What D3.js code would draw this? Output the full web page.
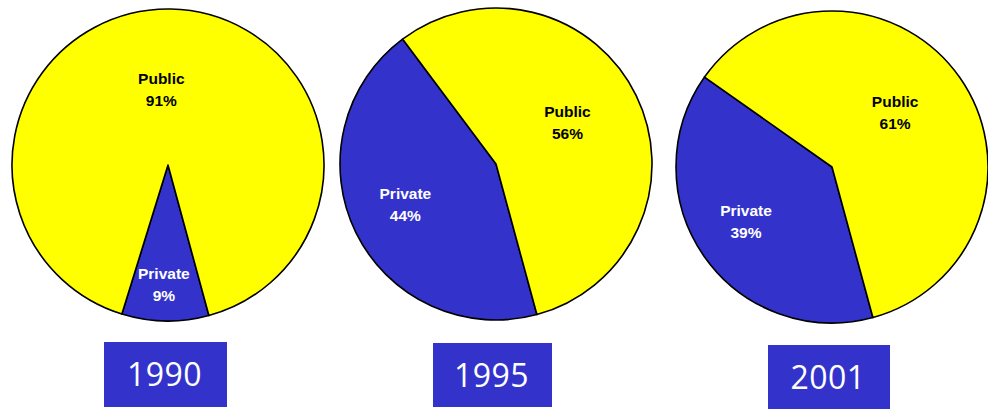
<!DOCTYPE html>
<html>
<head>
<meta charset="utf-8">
<script src="https://cdn.jsdelivr.net/npm/d3@7"></script>
<style>
  body { margin: 0; background: #fff; }
  svg { display: block; }
</style>
</head>
<body>
<div id="chart"></div>
<script>
// dados
const anos = ["1990", "1995", "2001"];
const categorias = ["Private", "Public"];
const privado = [9, 44, 39];
const publico = [91, 56, 61];

// layout (posições dos gráficos na tela)
const width = 988, height = 410;
const raio = 156;
const centros = [[168, 165], [496, 164], [832, 167]];
const caixas = [
  { x: 104, y: 342, w: 123, h: 65 },
  { x: 433, y: 343, w: 119, h: 64 },
  { x: 768, y: 345, w: 122, h: 64 }
];
// rótulos: [raio relativo, desvio do ângulo em graus] para [private, public]
const posRotulo = [
  [[0.763, 1], [0.49, -6]],
  [[0.635, 2.2], [0.532, -4.6]],
  [[0.65, 3], [0.536, -6]]
];

const cores = d3.scaleOrdinal().domain(categorias).range(["#3333cc", "#ffff00"]);
const corTexto = d3.scaleOrdinal().domain(categorias).range(["#ffffff", "#000000"]);

const inicio = 164.8 * Math.PI / 180;
const pie = d3.pie()
  .sort(null)
  .value(d => d.value)
  .startAngle(inicio)
  .endAngle(inicio + 2 * Math.PI);

const arco = d3.arc().innerRadius(0).outerRadius(raio);

const svg = d3.select("#chart").append("svg")
  .attr("width", width).attr("height", height);

anos.forEach((ano, i) => {
  const data = [
    { label: "Private", value: privado[i] },
    { label: "Public", value: publico[i] }
  ];
  const g = svg.append("g")
    .attr("transform", `translate(${centros[i][0]},${centros[i][1]})`);

  const fatias = pie(data);

  g.selectAll("path")
    .data(fatias).enter()
    .append("path")
    .attr("d", arco)
    .attr("fill", d => cores(d.data.label))
    .attr("stroke", "#000")
    .attr("stroke-width", 1.6)
    .attr("stroke-linejoin", "round");

  const rotulos = g.selectAll("text.rotulo")
    .data(fatias).enter()
    .append("text")
    .attr("class", "rotulo")
    .attr("transform", (d, j) => {
      const [rel, desvio] = posRotulo[i][j];
      const ang = (d.startAngle + d.endAngle) / 2 + desvio * Math.PI / 180;
      const r = raio * rel;
      return `translate(${r * Math.sin(ang)},${-r * Math.cos(ang)})`;
    })
    .attr("text-anchor", "middle")
    .style("font-family", "'Liberation Sans', Arial, sans-serif")
    .style("font-size", "15.5px")
    .style("font-weight", "bold")
    .attr("fill", d => corTexto(d.data.label));

  rotulos.append("tspan").attr("x", 0).attr("y", -5).text(d => d.data.label);
  rotulos.append("tspan").attr("x", 0).attr("y", 17).text(d => d.data.value + "%");

  const cx = caixas[i];
  svg.append("rect")
    .attr("x", cx.x).attr("y", cx.y)
    .attr("width", cx.w).attr("height", cx.h)
    .attr("fill", "#3333cc");

  svg.append("text")
    .attr("x", cx.x + cx.w / 2 - 1)
    .attr("y", cx.y + 44)
    .attr("text-anchor", "middle")
    .style("font-family", "'Open Sans', sans-serif")
    .style("font-size", "32px")
    .style("letter-spacing", "0.5px")
    .attr("fill", "#fff")
    .text(ano);
});
</script>
</body>
</html>
